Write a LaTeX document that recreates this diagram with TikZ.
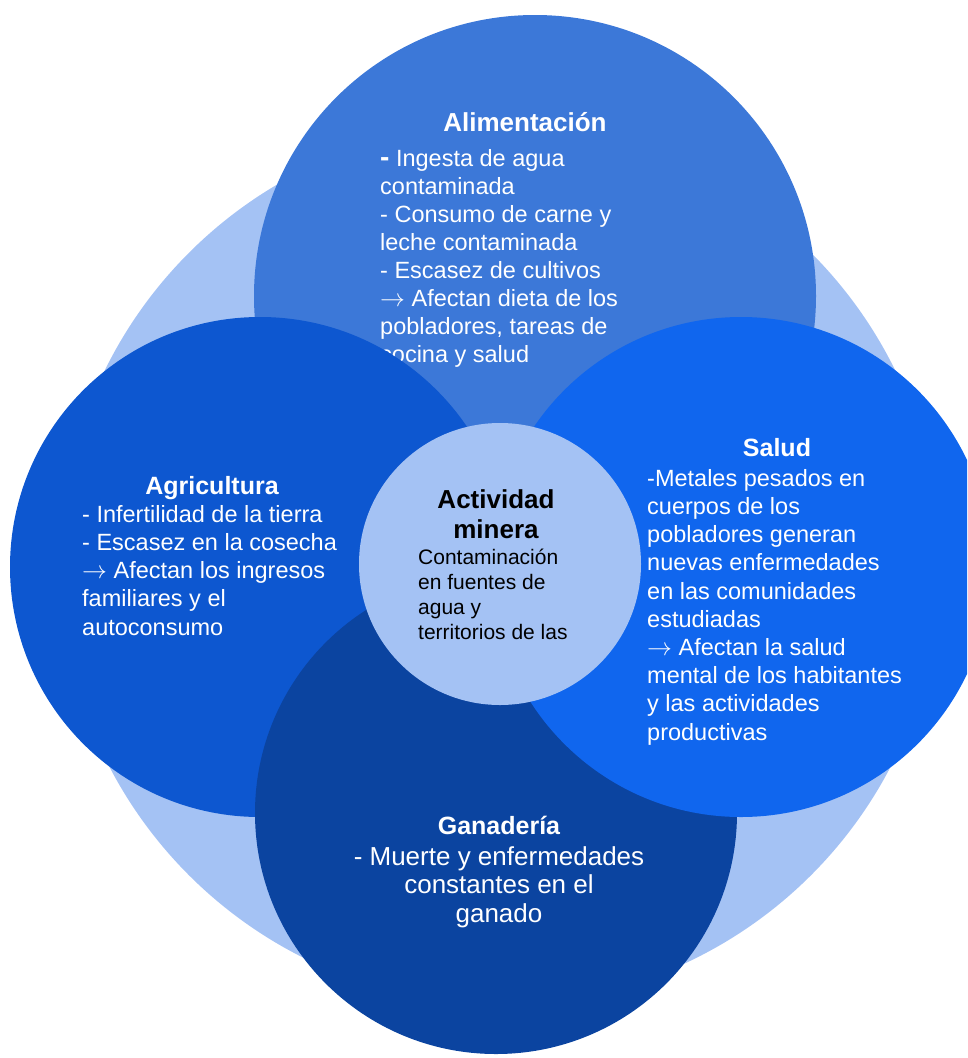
\documentclass[tikz,border=0pt]{standalone}
\usepackage{fontspec}
\setmainfont{Liberation Sans}
\definecolor{bgblue}{HTML}{A4C2F4}
\definecolor{alimc}{HTML}{3C78D8}
\definecolor{agric}{HTML}{0D57D0}
\definecolor{saludc}{HTML}{1066EE}
\definecolor{ganc}{HTML}{0B44A0}
\definecolor{centc}{HTML}{A4C2F4}
\newcommand{\arr}{$\rightarrow$}
\begin{document}
\begin{tikzpicture}[x=1pt,y=-1pt,
  disc/.style={circle, inner sep=0pt, outer sep=0pt, draw=none, minimum size=#1},
  ttl/.style={font=\fontsize{25}{30}\selectfont\bfseries, text=white, inner sep=0pt, anchor=base},
  body/.style={font=\fontsize{23.5}{28.2}\selectfont, text=white, inner sep=0pt, align=left, anchor=base west},
  cbody/.style={font=\fontsize{26}{28.5}\selectfont, text=white, inner sep=0pt, align=center, anchor=base}
]
\useasboundingbox (0,0) rectangle (967,1058);
\clip (0,0) rectangle (967,1058);
\node[disc=880pt, fill=bgblue] (bg) at (500,564) {};
\node[disc=562pt, fill=alimc] (alim) at (535,296) {};

% multi-line nodes: base anchor = baseline of the last line
\node[ttl, font=\fontsize{26}{30}\selectfont\bfseries] (alimt) at (525,131) {Alimentación};
\node[body, font=\fontsize{23.5}{27.9}\selectfont] (alimb) at (380,362) {{\fontsize{28}{28}\selectfont\bfseries -} Ingesta de agua\\contaminada\\- Consumo de carne y\\leche contaminada\\- Escasez de cultivos\\\arr{} Afectan dieta de los\\pobladores, tareas de\\cocina y salud};

\node[disc=500pt, fill=agric] (agri) at (260,567) {};
\node[disc=482pt, fill=ganc] (gan) at (496,813) {};
\node[disc=500pt, fill=saludc] (salud) at (741,567) {};
\node[disc=282pt, fill=centc] (centro) at (500,564) {};

\node[ttl] (agrit) at (212,494) {Agricultura};
\node[body] (agrib) at (82,635) {- Infertilidad de la tierra\\- Escasez en la cosecha\\\arr{} Afectan los ingresos\\familiares y el\\autoconsumo};

\node[ttl] (saludt) at (777,456) {Salud};
\node[body] (saludb) at (647,740) {-Metales pesados en\\cuerpos de los\\pobladores generan\\nuevas enfermedades\\en las comunidades\\estudiadas\\\arr{} Afectan la salud\\mental de los habitantes\\y las actividades\\productivas};

\node[ttl] (gant) at (499,834) {Ganadería};
\node[cbody] (ganb) at (499,922) {- Muerte y enfermedades\\constantes en el\\ganado};

\node[ttl, text=black, align=center, font=\fontsize{26}{30}\selectfont\bfseries] (centt) at (496,538) {Actividad\\minera};
\node[body, text=black, font=\fontsize{21}{25}\selectfont] (centb) at (418,639) {Contaminación\\en fuentes de\\agua y\\territorios de las};
\end{tikzpicture}
\end{document}
